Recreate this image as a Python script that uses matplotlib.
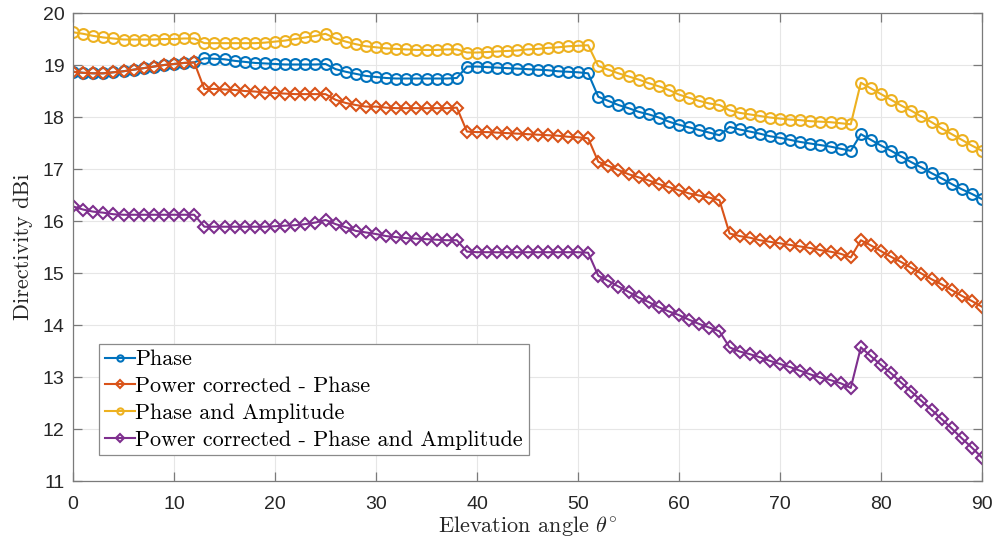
import matplotlib
matplotlib.use("Agg")
import matplotlib.pyplot as plt

# Elevation angles (degrees)
theta = list(range(0, 91))

phase = [
    18.87, 18.85, 18.84, 18.84, 18.86, 18.88, 18.91, 18.94, 18.97, 19.00, 19.02, 19.04, 19.05,
    19.13, 19.12, 19.11, 19.08, 19.06, 19.04, 19.03, 19.02, 19.01, 19.01, 19.01, 19.01, 19.02,
    18.92, 18.87, 18.83, 18.79, 18.77, 18.75, 18.74, 18.74, 18.74, 18.74, 18.74, 18.74, 18.75,
    18.97, 18.97, 18.96, 18.95, 18.94, 18.93, 18.92, 18.91, 18.90, 18.88, 18.87, 18.86, 18.84,
    18.39, 18.31, 18.23, 18.17, 18.10, 18.05, 17.99, 17.91, 17.85, 17.80, 17.75, 17.70, 17.65,
    17.81, 17.76, 17.72, 17.68, 17.63, 17.60, 17.56, 17.52, 17.49, 17.46, 17.43, 17.39, 17.35,
    17.67, 17.56, 17.45, 17.35, 17.24, 17.13, 17.03, 16.92, 16.82, 16.71, 16.61, 16.52, 16.42,
]

pc_phase = [
    18.87, 18.85, 18.84, 18.84, 18.86, 18.88, 18.91, 18.94, 18.97, 19.00, 19.02, 19.04, 19.05,
    18.54, 18.54, 18.53, 18.52, 18.50, 18.49, 18.47, 18.46, 18.45, 18.44, 18.44, 18.44, 18.44,
    18.33, 18.27, 18.23, 18.20, 18.20, 18.18, 18.17, 18.17, 18.17, 18.17, 18.17, 18.17, 18.18,
    17.72, 17.71, 17.71, 17.70, 17.69, 17.68, 17.67, 17.66, 17.65, 17.64, 17.62, 17.61, 17.59,
    17.14, 17.06, 16.98, 16.90, 16.84, 16.78, 16.71, 16.65, 16.59, 16.53, 16.49, 16.45, 16.40,
    15.76, 15.71, 15.68, 15.63, 15.60, 15.57, 15.54, 15.51, 15.48, 15.44, 15.41, 15.37, 15.30,
    15.63, 15.53, 15.42, 15.31, 15.21, 15.10, 14.99, 14.88, 14.78, 14.67, 14.56, 14.46, 14.35,
]

phase_amp = [
    19.63, 19.60, 19.56, 19.53, 19.51, 19.49, 19.49, 19.49, 19.49, 19.50, 19.50, 19.51, 19.51,
    19.42, 19.42, 19.42, 19.42, 19.42, 19.42, 19.43, 19.45, 19.47, 19.50, 19.53, 19.56, 19.60,
    19.51, 19.45, 19.40, 19.36, 19.34, 19.32, 19.31, 19.30, 19.29, 19.29, 19.29, 19.30, 19.30,
    19.24, 19.24, 19.25, 19.26, 19.27, 19.28, 19.30, 19.31, 19.33, 19.34, 19.36, 19.37, 19.38,
    18.98, 18.91, 18.84, 18.78, 18.72, 18.65, 18.59, 18.52, 18.43, 18.37, 18.31, 18.26, 18.23,
    18.13, 18.08, 18.05, 18.02, 17.99, 17.97, 17.95, 17.94, 17.92, 17.91, 17.90, 17.88, 17.86,
    18.66, 18.55, 18.44, 18.33, 18.22, 18.12, 18.01, 17.90, 17.78, 17.67, 17.56, 17.45, 17.35,
]

pc_phase_amp = [
    16.28, 16.22, 16.18, 16.16, 16.13, 16.12, 16.12, 16.12, 16.12, 16.12, 16.12, 16.12, 16.12,
    15.89, 15.89, 15.89, 15.89, 15.89, 15.89, 15.89, 15.90, 15.91, 15.92, 15.94, 15.97, 16.02,
    15.94, 15.88, 15.81, 15.78, 15.75, 15.71, 15.69, 15.67, 15.66, 15.65, 15.64, 15.63, 15.63,
    15.41, 15.40, 15.40, 15.40, 15.40, 15.40, 15.40, 15.40, 15.40, 15.40, 15.40, 15.40, 15.39,
    14.95, 14.85, 14.74, 14.64, 14.53, 14.44, 14.34, 14.26, 14.19, 14.10, 14.02, 13.95, 13.88,
    13.57, 13.49, 13.44, 13.38, 13.31, 13.25, 13.19, 13.12, 13.05, 12.99, 12.94, 12.88, 12.79,
    13.57, 13.40, 13.23, 13.07, 12.89, 12.72, 12.54, 12.37, 12.19, 12.01, 11.82, 11.64, 11.45,
]

labels = [
    "Phase",
    "Power corrected - Phase",
    "Phase and Amplitude",
    "Power corrected - Phase and Amplitude",
]
colors = ["#0072BD", "#D95319", "#EDB120", "#7E2F8E"]
markers = ["o", "D", "o", "D"]

x_ticks = [0, 10, 20, 30, 40, 50, 60, 70, 80, 90]
y_ticks = [11, 12, 13, 14, 15, 16, 17, 18, 19, 20]

plt.rcParams["mathtext.fontset"] = "cm"
serif = "cmr10"
sans = "Liberation Sans"

fig = plt.figure(figsize=(9.95, 5.44), dpi=100)
ax = fig.add_axes([0.0734, 0.1158, 0.9136, 0.8603])

series = [phase, pc_phase, phase_amp, pc_phase_amp]
for y, lab, c, m in zip(series, labels, colors, markers):
    ms = 7.8 if m == "o" else 6.1
    ax.plot(theta, y, color=c, marker=m, markersize=ms, markerfacecolor="none",
            markeredgecolor=c, markeredgewidth=1.5, linewidth=1.5, label=lab)

ax.set_xlim(0, 90)
ax.set_ylim(11, 20)
ax.set_xticks(x_ticks)
ax.set_yticks(y_ticks)
ax.grid(True, color="#e6e6e6", linewidth=0.8)
ax.set_axisbelow(True)

for s in ax.spines.values():
    s.set_color("#7a7a7a")
    s.set_linewidth(0.9)
ax.tick_params(direction="in", length=6.5, width=0.9, color="#7a7a7a",
               top=True, right=True, labelsize=14, labelcolor="#262626")
ax.tick_params(axis="x", pad=10.5)
ax.tick_params(axis="y", pad=6)
for t in ax.get_xticklabels() + ax.get_yticklabels():
    t.set_fontfamily(sans)

ax.set_xlabel(r"Elevation angle $\theta^{\circ}$", fontfamily=serif, fontsize=16,
              color="#262626", labelpad=1)
ax.set_ylabel("Directivity dBi", fontfamily=serif, fontsize=16, color="#262626",
              labelpad=7)

leg = ax.legend(loc="upper left", bbox_to_anchor=(0.0286, 0.2927), borderaxespad=0,
                prop={"family": serif, "size": 15.9}, frameon=True, fancybox=False,
                framealpha=1, edgecolor="#8a8a8a", handlelength=1.35, handletextpad=0.03,
                labelspacing=0.33, borderpad=0.26)
leg.get_frame().set_linewidth(0.9)
for line in leg.get_lines():
    line.set_markersize(4.5)

fig.savefig("out.png", dpi=100)
